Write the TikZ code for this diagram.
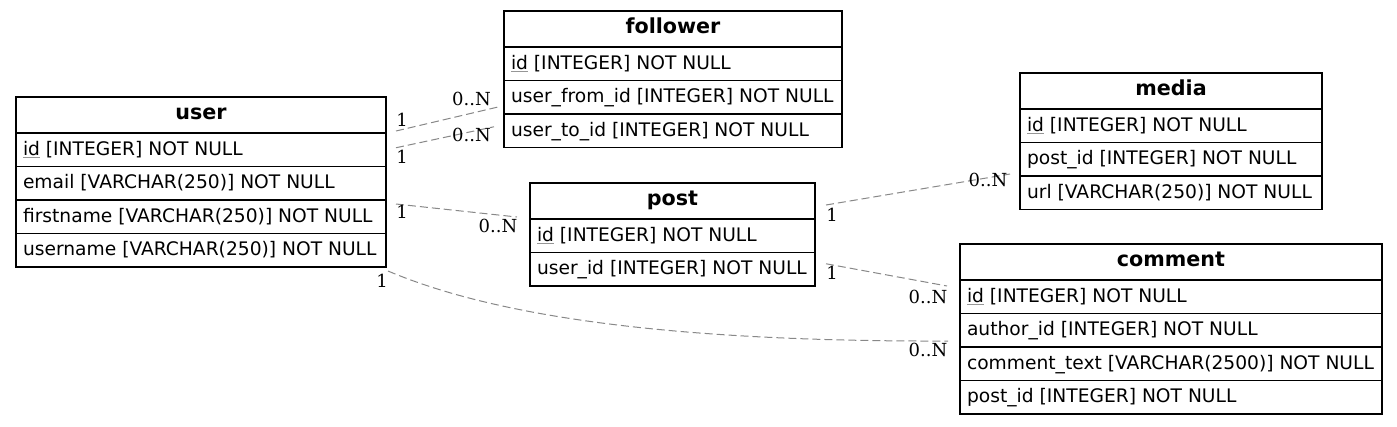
\documentclass[tikz,border=0pt]{standalone}
\usepackage{fontspec}
\setmainfont{DejaVu Sans}
\newfontfamily\lblfont{DejaVu Serif}
\definecolor{edgegray}{RGB}{136,136,136}
\definecolor{ulgray}{RGB}{150,150,150}
\newcommand\pkid{\leavevmode\setbox0\hbox{id}\rlap{\textcolor{ulgray}{\rule[-2.4pt]{\wd0}{0.8pt}}}id}
\newcommand\trow[4]{\node[trow, minimum width=#3] (#1) at (#2.south west) {\hbox to \dimexpr#3-10.5pt\relax{#4\hfil}};}
\tikzset{
  thdr/.style={draw=black, line width=0.85pt, minimum height=27pt, inner sep=0pt, outer sep=0pt, anchor=north west,
    font=\bfseries\fontsize{15.5}{17}\selectfont, text height=10.5pt, text depth=4.5pt},
  trow/.style={draw=black, line width=0.85pt, minimum height=25.125pt, inner sep=0pt, outer sep=0pt, anchor=north west,
    font=\fontsize{14}{16}\selectfont, text height=10pt, text depth=2pt},
  lbl/.style={font=\lblfont\fontsize{13.5}{16}\selectfont, inner sep=0pt},
  conn/.style={draw=edgegray, line width=0.75pt, dash pattern=on 6pt off 3pt},
}
\begin{document}
\begin{tikzpicture}[x=0.75pt,y=-0.75pt]
\useasboundingbox (0,0) rectangle (1397,426);
% user
\node[thdr, minimum width=277.5pt] (user) at (16,97) {user};
\trow{user-id}{user}{277.5pt}{\pkid{} [INTEGER] NOT NULL}
\trow{user-email}{user-id}{277.5pt}{email [VARCHAR(250)] NOT NULL}
\trow{user-first}{user-email}{277.5pt}{firstname [VARCHAR(250)] NOT NULL}
\trow{user-uname}{user-first}{277.5pt}{username [VARCHAR(250)] NOT NULL}
% follower
\node[thdr, minimum width=253.5pt] (follower) at (504,11) {follower};
\trow{follower-id}{follower}{253.5pt}{\pkid{} [INTEGER] NOT NULL}
\trow{follower-from}{follower-id}{253.5pt}{user\_from\_id [INTEGER] NOT NULL}
\trow{follower-to}{follower-from}{253.5pt}{user\_to\_id [INTEGER] NOT NULL}
% post
\node[thdr, minimum width=213.75pt] (post) at (530,183) {post};
\trow{post-id}{post}{213.75pt}{\pkid{} [INTEGER] NOT NULL}
\trow{post-user}{post-id}{213.75pt}{user\_id [INTEGER] NOT NULL}
% media
\node[thdr, minimum width=226.5pt] (media) at (1020,73) {media};
\trow{media-id}{media}{226.5pt}{\pkid{} [INTEGER] NOT NULL}
\trow{media-post}{media-id}{226.5pt}{post\_id [INTEGER] NOT NULL}
\trow{media-url}{media-post}{226.5pt}{url [VARCHAR(250)] NOT NULL}
% comment
\node[thdr, minimum width=316.5pt] (comment) at (960,244) {comment};
\trow{comment-id}{comment}{316.5pt}{\pkid{} [INTEGER] NOT NULL}
\trow{comment-author}{comment-id}{316.5pt}{author\_id [INTEGER] NOT NULL}
\trow{comment-text}{comment-author}{316.5pt}{comment\_text [VARCHAR(2500)] NOT NULL}
\trow{comment-post}{comment-text}{316.5pt}{post\_id [INTEGER] NOT NULL}
% connectors
\draw[conn] ([shift={(10,-2)}]user-id.north east) -- ([shift={(-6,-7)}]follower-from.south west);
\draw[conn] ([shift={(10,-2)}]user-id.east) -- ([shift={(-10,-4)}]follower-to.west);
\draw[conn] ([shift={(10,4)}]user-first.north east) -- ([shift={(-13,-2)}]post.south west);
\draw[conn] ([shift={(2,4)}]user-uname.south east) .. controls (480,310) and (640,342) .. ([shift={(-12,-6)}]comment-author.south west);
\draw[conn] ([shift={(11,4)}]post.east) -- ([shift={(-10,-2)}]media-post.south west);
\draw[conn] ([shift={(11,-5.5)}]post-user.east) -- ([shift={(-13,6)}]comment-id.north west);
% labels
\node[lbl] (l1a) at (402,120) {1};
\node[lbl] (l1b) at (471.5,98.5) {0..N};
\node[lbl] (l2a) at (402,157) {1};
\node[lbl] (l2b) at (471.5,135) {0..N};
\node[lbl] (l3a) at (402,212) {1};
\node[lbl] (l3b) at (498,226) {0..N};
\node[lbl] (l4a) at (382,281) {1};
\node[lbl] (l4b) at (928,350) {0..N};
\node[lbl] (l5a) at (832,215) {1};
\node[lbl] (l5b) at (988,180) {0..N};
\node[lbl] (l6a) at (832,273) {1};
\node[lbl] (l6b) at (928,297) {0..N};
\end{tikzpicture}
\end{document}
